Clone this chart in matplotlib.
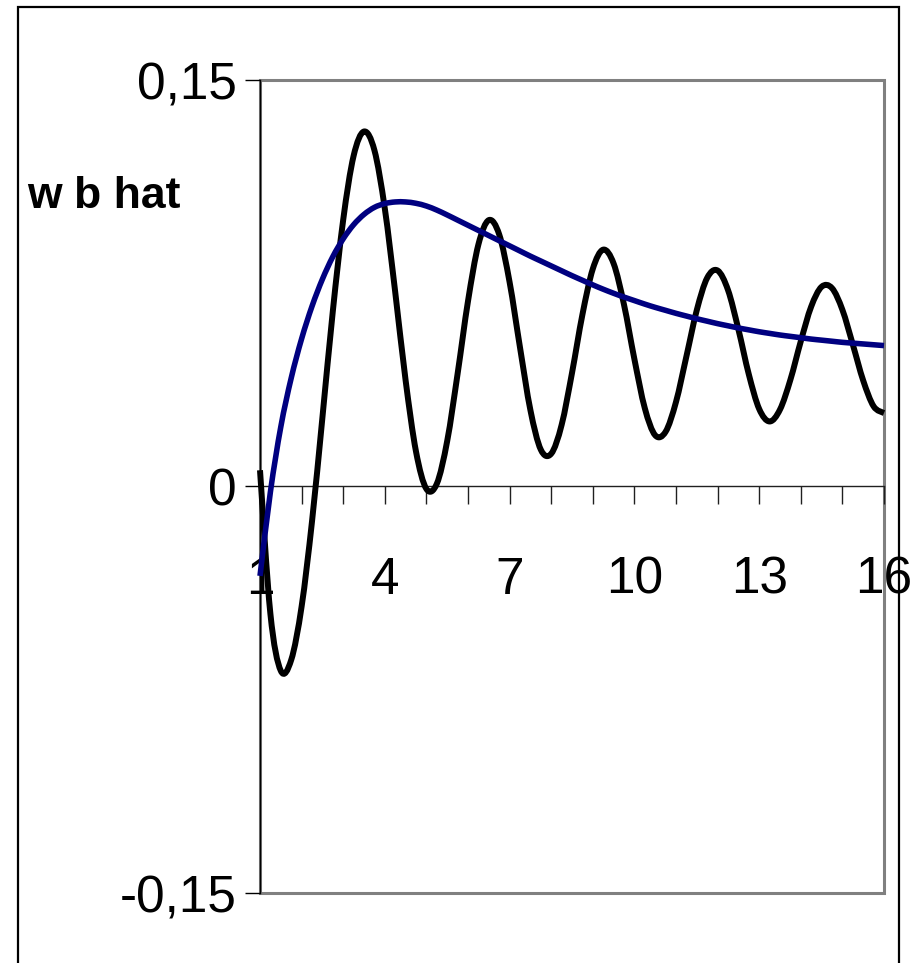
import numpy as np
import matplotlib
matplotlib.use("Agg")
import matplotlib.pyplot as plt
from matplotlib.patches import Rectangle, PathPatch
from matplotlib.path import Path

plt.rcParams['font.family'] = ['Liberation Sans', 'DejaVu Sans']

# x runs over the categories 1..16, sampled every quarter step
x = np.linspace(1, 16, 61)

# black oscillating series
w_black = [0.006, -0.047, -0.068, -0.064, -0.0443, -0.0129, 0.0254, 0.0646,
           0.0984, 0.1220, 0.1310, 0.1241, 0.1026, 0.0718, 0.0392, 0.0129,
           -0.0009, 0.0010, 0.0168, 0.0416, 0.0684, 0.0893, 0.0983, 0.0930,
           0.0754, 0.0513, 0.0282, 0.0136, 0.0121, 0.0227, 0.0419, 0.0634,
           0.0803, 0.0874, 0.0823, 0.0671, 0.0470, 0.0289, 0.0189, 0.0202,
           0.0312, 0.0480, 0.0651, 0.0770, 0.0797, 0.0725, 0.0580, 0.0414,
           0.0286, 0.0240, 0.0284, 0.0394, 0.0536, 0.0664, 0.0737, 0.0732,
           0.0652, 0.0524, 0.0391, 0.0296, 0.0271]

# smooth blue series
w_blue = [-0.033, -0.002, 0.022, 0.040, 0.0545, 0.0665, 0.0765, 0.0848,
          0.0914, 0.0966, 0.1004, 0.1030, 0.1044, 0.1050, 0.1050, 0.1045,
          0.1035, 0.1020, 0.1002, 0.0983, 0.0964, 0.0945, 0.0926, 0.0907,
          0.0888, 0.0869, 0.0850, 0.0832, 0.0814, 0.0796, 0.0778, 0.0761,
          0.0744, 0.0728, 0.0713, 0.0699, 0.0686, 0.0673, 0.0661, 0.0650,
          0.0639, 0.0629, 0.0619, 0.0610, 0.0601, 0.0593, 0.0585, 0.0578,
          0.0571, 0.0565, 0.0559, 0.0554, 0.0549, 0.0544, 0.0540, 0.0536,
          0.0532, 0.0529, 0.0526, 0.0523, 0.0520]

xticks_major = [1, 4, 7, 10, 13, 16]
xticks_minor = list(range(1, 17))
yticks = [-0.15, 0, 0.15]
ytick_labels = ['-0,15', '0', '0,15']


def smooth_path(xs, ys):
    # Excel-style smoothed line: cubic bezier segments through the points
    p = np.column_stack([xs, ys])
    ext = np.vstack([p[0], p, p[-1]])
    verts = [p[0]]
    codes = [Path.MOVETO]
    for i in range(len(p) - 1):
        c1 = ext[i + 1] + (ext[i + 2] - ext[i]) / 6
        c2 = ext[i + 2] - (ext[i + 3] - ext[i + 1]) / 6
        verts += [c1, c2, p[i + 1]]
        codes += [Path.CURVE4] * 3
    return Path(verts, codes)


W, H = 917, 963
fig = plt.figure(figsize=(W / 100, H / 100), dpi=100)
ax = fig.add_axes([260 / W, 1 - 893 / H, 624 / W, 813 / H])

ax.add_patch(PathPatch(smooth_path(x, w_black), fill=False, ec='black',
                       lw=4.3, clip_on=False, zorder=3, joinstyle='round'))
ax.add_patch(PathPatch(smooth_path(x, w_blue), fill=False, ec='#000080',
                       lw=4.0, clip_on=False, zorder=4, joinstyle='round'))

ax.set_xlim(1, 16)
ax.set_ylim(-0.15, 0.15)

# plot area frame (gray) and axis lines (black)
for s in ['top', 'right']:
    ax.spines[s].set_visible(False)
ax.add_patch(Rectangle((0, 0), 1, 1, transform=ax.transAxes, fill=False,
                       ec='#808080', lw=2.2, clip_on=False, zorder=1))
ax.spines['left'].set_color('black')
ax.spines['left'].set_linewidth(1.0)
ax.spines['left'].set_zorder(2)
ax.spines['bottom'].set_position(('data', 0))
ax.spines['bottom'].set_color('#202020')
ax.spines['bottom'].set_linewidth(1.0)

ax.set_xticks(xticks_major)
ax.set_xticklabels([str(t) for t in xticks_major])
ax.set_xticks(xticks_minor, minor=True)
ax.tick_params(axis='x', which='both', direction='out', length=13,
               width=1.0, color='#202020')
ax.tick_params(axis='x', which='major', pad=37, labelsize=37)

ax.set_yticks(yticks)
ax.set_yticklabels(ytick_labels)
ax.tick_params(axis='y', direction='out', length=11, width=1.0,
               color='black', pad=6, labelsize=37)

fig.text(27 / W, 1 - 208 / H, 'w b hat', fontsize=32, fontweight='bold',
         ha='left', va='baseline')

# outer chart border
fig.add_artist(Rectangle((18 / W, -0.1), (899 - 18) / W, 1.1 - 7 / H,
                         transform=fig.transFigure, fill=False,
                         ec='black', lw=1.6))

fig.savefig('out.png', dpi=100)
